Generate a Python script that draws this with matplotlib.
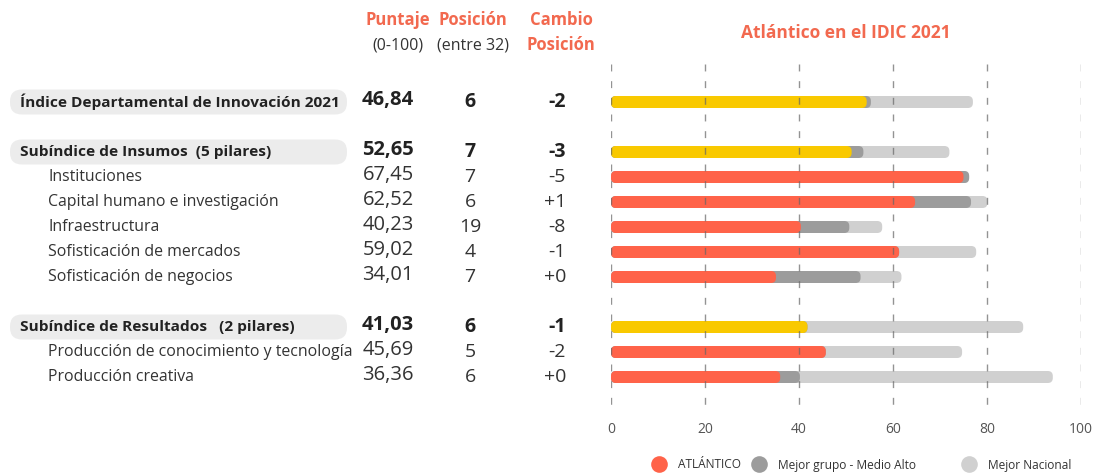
import matplotlib
matplotlib.use("Agg")
import matplotlib.pyplot as plt
from matplotlib.patches import FancyBboxPatch
from matplotlib.lines import Line2D

# ---- data -------------------------------------------------------------
labels = [
    "Índice Departamental de Innovación 2021",
    "Subíndice de Insumos  (5 pilares)",
    "Instituciones",
    "Capital humano e investigación",
    "Infraestructura",
    "Sofisticación de mercados",
    "Sofisticación de negocios",
    "Subíndice de Resultados   (2 pilares)",
    "Producción de conocimiento y tecnología",
    "Producción creativa",
]
puntaje = ["46,84", "52,65", "67,45", "62,52", "40,23", "59,02", "34,01", "41,03", "45,69", "36,36"]
posicion = ["6", "7", "7", "6", "19", "4", "7", "6", "5", "6"]
cambio = ["-2", "-3", "-5", "+1", "-8", "-1", "+0", "-1", "-2", "+0"]
is_header = [True, True, False, False, False, False, False, True, False, False]

# bar lengths as drawn (0-100 scale)
atlantico = [54.4, 51.2, 75.0, 64.7, 40.4, 61.3, 35.1, 41.8, 45.7, 36.0]
mejor_grupo = [55.3, 53.7, 76.2, 76.6, 50.7, 61.3, 53.1, 41.8, 45.7, 40.2]
mejor_nacional = [77.0, 72.0, 76.2, 80.1, 57.7, 77.7, 61.8, 87.7, 74.7, 94.0]
xticks = [0, 20, 40, 60, 80, 100]
legend_labels = ["ATLÁNTICO", "Mejor grupo - Medio Alto", "Mejor Nacional"]

# ---- layout -----------------------------------------------------------
W, H = 1097, 475
slots = [0, 2, 3, 4, 5, 6, 7, 9, 10, 11]
row_y = [102 + 25 * s for s in slots]          # pixel rows
grid_top, grid_bot = 64, 408
x0_px, x1_px = 611, 1081
px_per_unit = (x1_px - x0_px) / 100

RED = "#FF6349"
YELLOW = "#F9C900"
DARK = "#9C9C9C"
LIGHT = "#D0D0D0"
HEAD = "#F2694F"
TXT = "#333333"

plt.rcParams["font.family"] = ["Open Sans", "DejaVu Sans"]

fig = plt.figure(figsize=(W / 100, H / 100), dpi=100)
fig.patch.set_facecolor("white")

bottom = (H - grid_bot) / H
height = (grid_bot - grid_top) / H

ax = fig.add_axes([x0_px / W, bottom, (x1_px - x0_px) / W, height])
ax.set_xlim(0, 100)
ax.set_ylim(grid_bot, grid_top)
for s in ax.spines.values():
    s.set_visible(False)
ax.set_yticks([])
ax.set_xticks(xticks)
ax.tick_params(axis="x", length=0, pad=10, labelsize=10, labelcolor="#555555")

bar_h = 12
r = 5 / px_per_unit
for i, y in enumerate(row_y):
    main = YELLOW if is_header[i] else RED
    for val, col, z in ((mejor_nacional[i], LIGHT, 1), (mejor_grupo[i], DARK, 2), (atlantico[i], main, 3)):
        ax.add_patch(FancyBboxPatch((0, y - bar_h / 2), val, bar_h,
                                    boxstyle=f"round,pad=0,rounding_size={r}",
                                    mutation_aspect=px_per_unit,
                                    facecolor=col, edgecolor="none", zorder=z))

ax.vlines(xticks, grid_top, grid_bot, colors="#666666", linewidth=1.0,
          linestyles=(0, (5, 7)), alpha=0.7, zorder=5)

ax.text(50, 33, "Atlántico en el IDIC 2021", ha="center", va="center",
        fontsize=12.5, fontweight="bold", color=HEAD, clip_on=False)

# ---- table ------------------------------------------------------------
tb = fig.add_axes([0, bottom, x0_px / W, height])
tb.set_xlim(0, x0_px)
tb.set_ylim(grid_bot, grid_top)
tb.axis("off")

for cx, l1, l2, red2 in ((398, "Puntaje", "(0-100)", False),
                         (473, "Posición", "(entre 32)", False),
                         (561, "Cambio", "Posición", True)):
    tb.text(cx, 20, l1, ha="center", va="center", fontsize=12, fontweight="bold",
            color=HEAD, clip_on=False)
    tb.text(cx, 45, l2, ha="center", va="center", fontsize=12 if red2 else 11.5,
            fontweight="bold" if red2 else "normal",
            color=HEAD if red2 else TXT, clip_on=False)

for i, y in enumerate(row_y):
    if is_header[i]:
        tb.add_patch(FancyBboxPatch((10, y - 12.5), 337, 25,
                                    boxstyle="round,pad=0,rounding_size=12",
                                    facecolor="#ECECEC", edgecolor="none", zorder=0))
        tb.text(20, y, labels[i], ha="left", va="center", fontsize=11.1,
                fontweight="bold", color="#222222")
        w, c = "bold", "#222222"
    else:
        tb.text(48, y, labels[i], ha="left", va="center", fontsize=11.4, color=TXT)
        w, c = "normal", TXT
    tb.text(414, y - 2, puntaje[i], ha="right", va="center", fontsize=14.5,
            fontweight=w, color=c)
    tb.text(470, y, posicion[i], ha="center", va="center", fontsize=14,
            fontweight=w, color=c)
    tb.text(566, y, cambio[i], ha="right", va="center", fontsize=14,
            fontweight=w, color=c)

# ---- legend (one entry each, so spacing follows the reference) ---------
for lab, col, left in zip(legend_labels, (RED, DARK, LIGHT), (651, 751, 961)):
    h = Line2D([], [], linestyle="none", marker="o", markersize=12,
               markerfacecolor=col, markeredgecolor="none", label=lab)
    fig.legend(handles=[h], loc="center left", bbox_to_anchor=(left / W, 1 - 465 / H),
               frameon=False, fontsize=8.6, handlelength=1.3, handletextpad=1.0,
               borderpad=0, borderaxespad=0, labelcolor=TXT)

fig.savefig("out.png", dpi=100)
